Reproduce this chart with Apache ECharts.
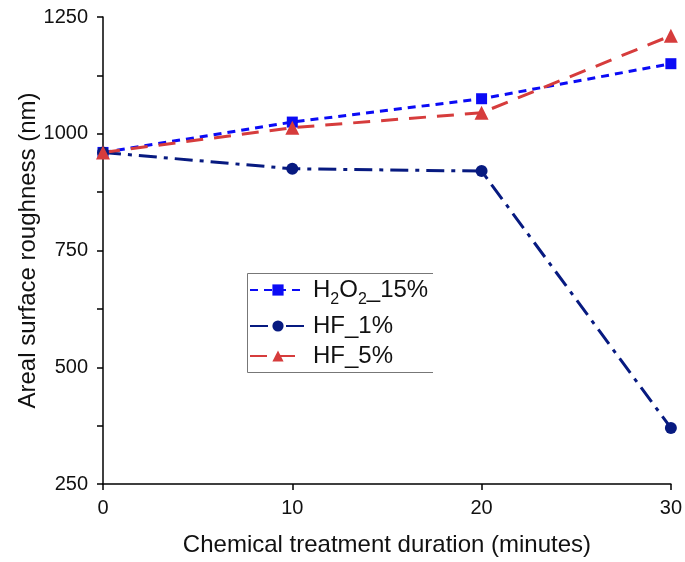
<!DOCTYPE html>
<html>
<head>
<meta charset="utf-8">
<script src="https://cdn.jsdelivr.net/npm/echarts@6/dist/echarts.min.js"></script>
<style>html,body{margin:0;padding:0;background:#fff;}#c{width:685px;height:562px;}</style>
</head>
<body>
<div id="c"></div>
<script>
const minutes = [0, 10, 20, 30];
const h2o2_15 = [960, 1025, 1075, 1150];
const hf_1 = [960, 925, 920, 370];
const hf_5 = [960, 1013, 1045, 1210];
const seriesNames = ['H2O2_15%', 'HF_1%', 'HF_5%'];
const yTicks = [250, 500, 750, 1000, 1250];
const xTicks = [0, 10, 20, 30];

const font = 'Liberation Sans, Arial, sans-serif';
const chart = echarts.init(document.getElementById('c'), null, {renderer: 'canvas'});
const pairs = arr => minutes.map((m, i) => [m, arr[i]]);
chart.setOption({
  animation: false,
  backgroundColor: '#fff',
  grid: {left: 103, right: 12, top: 17, bottom: 76},
  graphic: [{
    type: 'polyline', silent: true,
    shape: {points: [[433, 273.5], [247.5, 273.5], [247.5, 372.5], [433, 372.5]]},
    style: {stroke: '#777', lineWidth: 1, fill: null}
  }],
  legend: {
    left: 247, top: 270, orient: 'vertical',
    itemWidth: 56, itemHeight: 14, itemGap: 6,
    padding: [8, 4, 8, 2],
    data: seriesNames,
    textStyle: {
      fontFamily: font, fontSize: 24, color: '#111', padding: [0, 0, 0, 2],
      rich: {
        n: {fontFamily: font, fontSize: 24, color: '#111', verticalAlign: 'bottom', lineHeight: 24},
        s: {fontFamily: font, fontSize: 16, color: '#111', verticalAlign: 'bottom', lineHeight: 24, padding: [0, 0, -6, 0]}
      }
    },
    formatter: function (name) {
      if (name === 'H2O2_15%') return '{n|H}{s|2}{n|O}{s|2}{n|_15%}';
      return '{n|' + name + '}';
    }
  },
  xAxis: {
    type: 'value', min: xTicks[0], max: xTicks[xTicks.length - 1], interval: 10,
    name: 'Chemical treatment duration (minutes)', nameLocation: 'middle', nameGap: 49,
    nameMoveOverlap: false,
    nameTextStyle: {fontFamily: font, fontSize: 24, color: '#111'},
    axisLine: {lineStyle: {color: '#000', width: 1.5}},
    axisTick: {show: true, length: 6, lineStyle: {color: '#000', width: 1.5}},
    axisLabel: {fontFamily: font, fontSize: 20, color: '#111', margin: 14},
    splitLine: {show: false}
  },
  yAxis: {
    type: 'value', min: yTicks[0], max: yTicks[yTicks.length - 1], interval: 250,
    name: 'Areal surface roughness (nm)', nameLocation: 'middle', nameGap: 63,
    nameMoveOverlap: false,
    nameTextStyle: {fontFamily: font, fontSize: 24, color: '#111'},
    axisLine: {show: true, lineStyle: {color: '#000', width: 1.5}},
    axisTick: {show: true, length: 6, lineStyle: {color: '#000', width: 1.5}},
    minorTick: {show: true, splitNumber: 2, length: 6, lineStyle: {color: '#000', width: 1.5}},
    axisLabel: {fontFamily: font, fontSize: 20, color: '#111', margin: 15, formatter: v => String(v)},
    splitLine: {show: false}
  },
  series: [
    {
      name: seriesNames[0], type: 'line', data: pairs(h2o2_15),
      symbol: 'rect', symbolSize: 11,
      itemStyle: {color: '#0b0bf5'},
      lineStyle: {color: '#0b0bf5', width: 3, type: [8, 6]}
    },
    {
      name: seriesNames[1], type: 'line', data: pairs(hf_1),
      symbol: 'circle', symbolSize: 12,
      itemStyle: {color: '#071a80'},
      lineStyle: {color: '#071a80', width: 3, type: [18, 7, 4, 7]}
    },
    {
      name: seriesNames[2], type: 'line', data: pairs(hf_5),
      symbol: 'triangle', symbolSize: 14,
      itemStyle: {color: '#d63c3c'},
      lineStyle: {color: '#d63c3c', width: 3, type: [17, 11]}
    }
  ]
});
</script>
</body>
</html>
